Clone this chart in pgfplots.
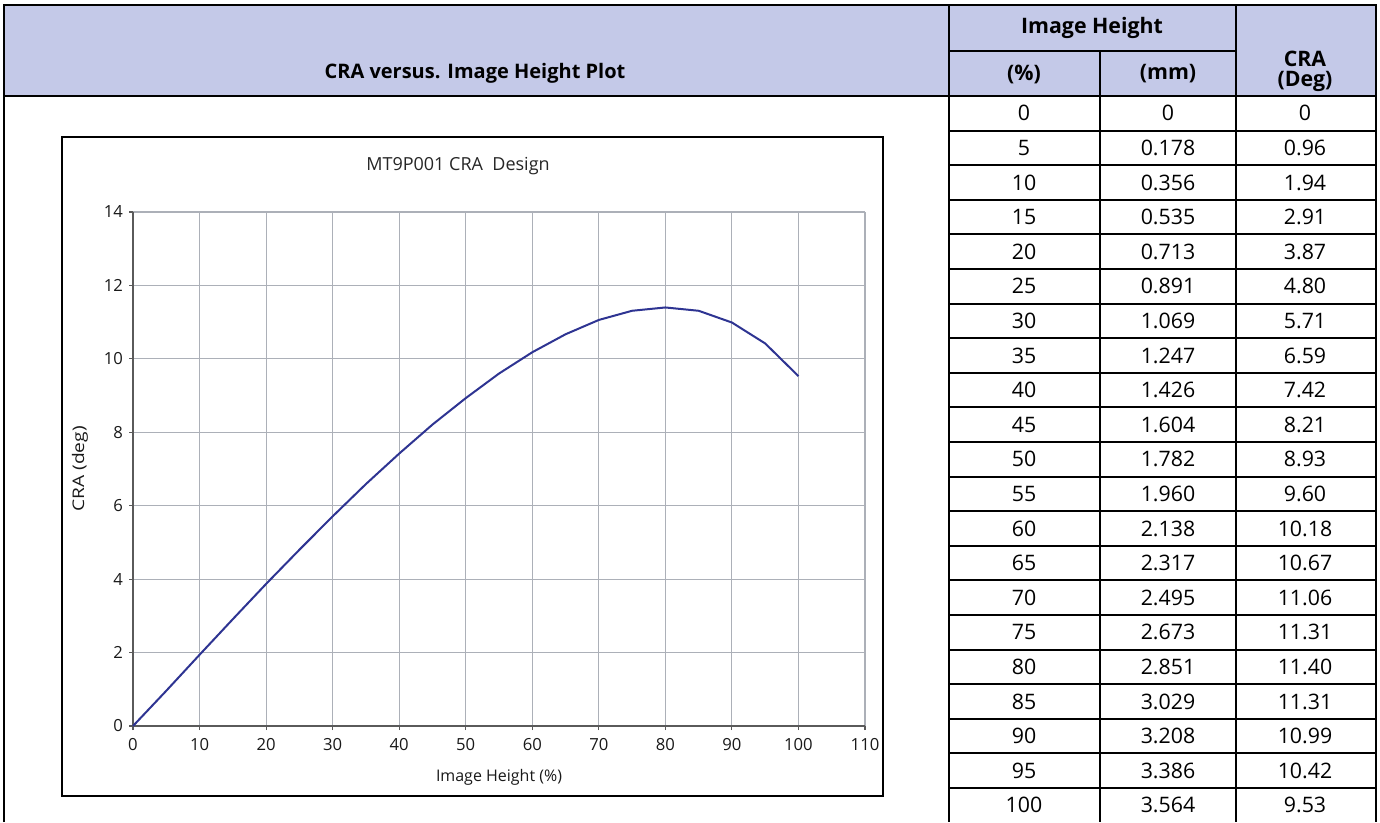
\documentclass[border=0pt]{standalone}
\usepackage{pgfplots}
\pgfplotsset{compat=1.18}
\usepackage{graphicx}
\usepackage{fontspec}
\setmainfont{Open Sans}
\definecolor{hdr}{RGB}{196,201,232}
\definecolor{gridc}{RGB}{172,176,184}
\definecolor{axc}{RGB}{90,90,90}
\definecolor{curve}{RGB}{46,52,146}
\begin{document}
\begin{tikzpicture}[x=0.75pt,y=-0.75pt]
\useasboundingbox (0,0) rectangle (1380,822);
% header band
\fill[hdr] (4,5) rectangle (1376,96);
\draw[line width=0.9pt] (949,51) -- (1236,51);
\draw[line width=0.9pt] (1100,51) -- (1100,96);
% data rows
\foreach \i in {1,...,20} {
  \draw[line width=1.6pt] (949,{96+\i*34.6}) -- (1376,{96+\i*34.6});
}
\draw[line width=1.6pt] (1100,96) -- (1100,822);
\draw[line width=1.8pt] (1236,5) -- (1236,822);
\draw[line width=1.8pt] (949,5) -- (949,822);
\draw[line width=2.2pt] (4,822) -- (4,5) -- (1376,5) -- (1376,822);
\draw[line width=2.2pt] (4,96) -- (1376,96);
% header texts
\node[font=\fontsize{15}{18}\selectfont\bfseries] at (475,73) {CRA versus. Image Height Plot};
\node[font=\fontsize{16}{18}\selectfont\bfseries] at (1092,28) {Image Height};
\node[font=\fontsize{16}{18}\selectfont\bfseries] at (1024,74) {(\%)};
\node[font=\fontsize{16}{18}\selectfont\bfseries] at (1168,74) {(mm)};
\node[font=\fontsize{16}{15}\selectfont\bfseries, align=center] at (1305,71) {CRA\\(Deg)};
% table values
\foreach \p/\m/\c [count=\i from 0] in {0/0/0, 5/0.178/0.96, 10/0.356/1.94, 15/0.535/2.91, 20/0.713/3.87, 25/0.891/4.80, 30/1.069/5.71, 35/1.247/6.59, 40/1.426/7.42, 45/1.604/8.21, 50/1.782/8.93, 55/1.960/9.60, 60/2.138/10.18, 65/2.317/10.67, 70/2.495/11.06, 75/2.673/11.31, 80/2.851/11.40, 85/3.029/11.31, 90/3.208/10.99, 95/3.386/10.42, 100/3.564/9.53} {
  \node[font=\fontsize{16}{18}\selectfont] at (1024,{113.3+\i*34.6}) {\p};
  \node[font=\fontsize{16}{18}\selectfont] at (1168,{113.3+\i*34.6}) {\m};
  \node[font=\fontsize{16}{18}\selectfont] at (1305,{113.3+\i*34.6}) {\c};
}
% chart frame
\draw[line width=0.8pt] (62,137) rectangle (883,796);
\node[font=\fontsize{13.5}{16}\selectfont, text=black!85] at (458,166) {MT9P001 CRA\ \ Design};
\coordinate (axo) at (133,726);
\begin{axis}[
  at={(axo)}, anchor=south west, scale only axis,
  width=549pt, height=385.5pt,
  xmin=0, xmax=110, ymin=0, ymax=14,
  xtick={0,10,...,110}, ytick={0,2,...,14},
  axis x line=bottom, axis y line=left,
  axis line style={axc, line width=1.1pt, -},
  grid=major, major grid style={gridc, line width=0.8pt},
  tick style={axc, line width=0.8pt},
  tick align=outside, major tick length=3pt,
  ticklabel style={font=\fontsize{12.5}{14}\selectfont, text=black!90},
  xticklabel style={yshift=-3pt},
  yticklabel style={xshift=-1pt},
  /pgf/number format/assume math mode=true,
  xlabel={Image Height (\%)}, ylabel={\scalebox{1.2}[1]{CRA (deg)}},
  label style={font=\fontsize{12}{14}\selectfont, text=black!90},
  xlabel style={yshift=-7pt},
  ylabel style={yshift=5pt},
  clip=false,
]
\addplot[curve, line width=1.5pt] coordinates {
 (0,0) (5,0.96) (10,1.94) (15,2.91) (20,3.87) (25,4.80) (30,5.71) (35,6.59)
 (40,7.42) (45,8.21) (50,8.93) (55,9.60) (60,10.18) (65,10.67) (70,11.06)
 (75,11.31) (80,11.40) (85,11.31) (90,10.99) (95,10.42) (100,9.53)
};
\end{axis}
\end{tikzpicture}
\end{document}
